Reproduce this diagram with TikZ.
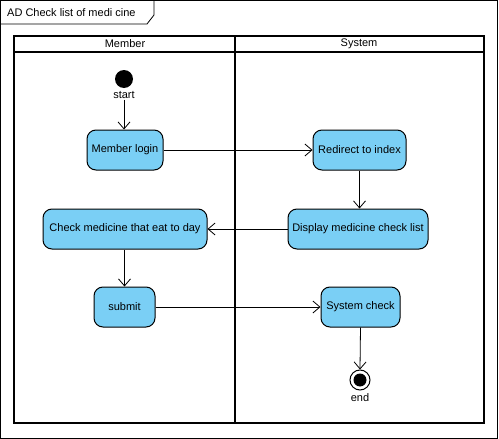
\documentclass[tikz,border=0pt]{standalone}
\usepackage{fontspec}
\setmainfont{Liberation Sans}
\usetikzlibrary{arrows.meta}
\definecolor{actfill}{RGB}{122,207,245}
\begin{document}
\begin{tikzpicture}[x=1pt,y=-1pt,
  act/.style={draw=black,fill=actfill,rounded corners=9pt,line width=1pt,minimum height=40pt,inner sep=0pt,font=\fontsize{11}{13}\selectfont},
  lane/.style={line width=1.6pt},
  flow/.style={line width=0.8pt,-{Straight Barb[length=7pt,width=12pt,line width=0.8pt]}},
  lbl/.style={font=\fontsize{11}{13}\selectfont,inner sep=1pt}]
\useasboundingbox (0,0) rectangle (499,439);
% outer frame
\draw[line width=0.8pt] (0.5,0.5) rectangle (497.5,438.5);
\draw[line width=0.8pt] (0.5,24) -- (147,24) -- (154,15) -- (154,0.5);
\node[lbl,anchor=west] (title) at (6,12.5) {AD Check list of medi cine};
% swimlanes
\draw[lane] (14,36) rectangle (484,423);
\draw[lane] (14,52) -- (484,52);
\draw[lane] (235,36) -- (235,423);
\node[lbl] (hmember) at (125,44) {Member};
\node[lbl] (hsystem) at (359,44) {System};
% start / end
\node[circle,fill=black,minimum size=18pt,inner sep=0pt] (start) at (124,79) {};
\node[lbl,anchor=north] (startl) at (124,90) {start};
\node[circle,draw=black,fill=white,line width=1pt,minimum size=20pt,inner sep=0pt] (end) at (360,380) {};
\node[circle,fill=black,minimum size=13pt,inner sep=0pt] (endin) at (360,380) {};
\node[lbl,anchor=north] (endl) at (360,392) {end};
% activities
\node[act,minimum width=76pt] (login) at (125,150) {Member login};
\node[act,minimum width=93pt] (redirect) at (359.5,150) {Redirect to index};
\node[act,minimum width=140pt] (display) at (358,229) {Display medicine check list};
\node[act,minimum width=164pt] (check) at (125,229) {Check medicine that eat to day};
\node[act,minimum width=61pt] (submit) at (124.5,307) {submit};
\node[act,minimum width=79pt] (syscheck) at (360.5,307) {System check};
% flows
\draw[flow] (start.south |- startl.south) -- (login.north -| start.south);
\draw[flow] (login.east) -- (redirect.west);
\draw[flow] (redirect.south) -- (redirect.south |- display.north);
\draw[flow] (display.west) -- (check.east);
\draw[flow] (check.south -| submit.north) -- (submit.north);
\draw[flow] (submit.east) -- (syscheck.west);
\draw[flow] (syscheck.south) -- (end.north);
\end{tikzpicture}
\end{document}
